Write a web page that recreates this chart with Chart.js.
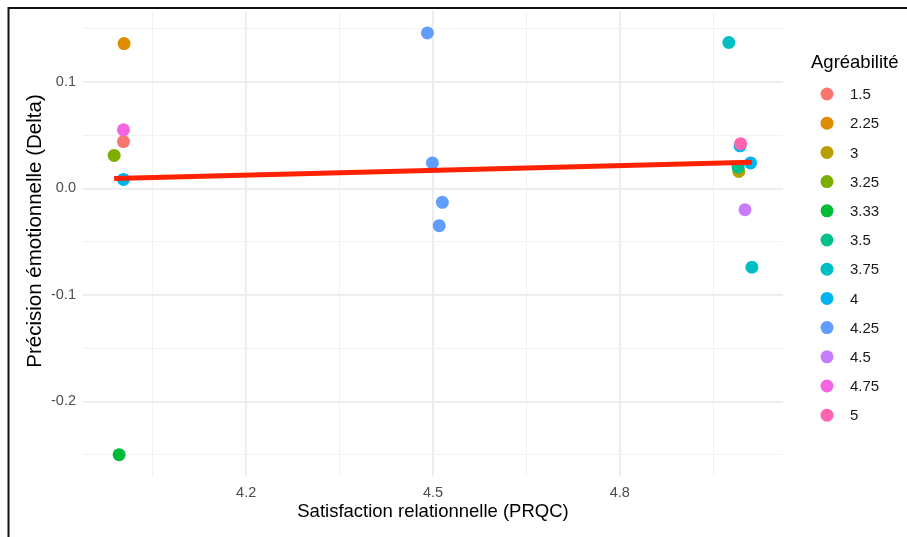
<!DOCTYPE html>
<html>
<head>
<meta charset="utf-8">
<script src="https://cdn.jsdelivr.net/npm/chart.js@4.4.1/dist/chart.umd.min.js"></script>
<style>
  html, body { margin: 0; padding: 0; background: #fff; }
  #wrap { position: relative; width: 907px; height: 537px; }
</style>
</head>
<body>
<div id="wrap"><canvas id="scatter"></canvas></div>
<script>
// --- Data ---
const levels = ['1.5', '2.25', '3', '3.25', '3.33', '3.5', '3.75', '4', '4.25', '4.5', '4.75', '5'];
const levelColors = ['#F8766D', '#DE8C00', '#B79F00', '#7CAE00', '#00BA38', '#00C08B',
                     '#00BFC4', '#00B4F0', '#619CFF', '#C77CFF', '#F564E3', '#FF64B0'];
// satisfaction (PRQC) per level
const prqcByLevel = [
    [4.003],
    [4.004],
    [4.991],
    [3.988],
    [3.996],
    [4.990],
    [4.975, 5.012],
    [4.003, 4.993, 5.010],
    [4.491, 4.499, 4.515, 4.510],
    [5.001],
    [4.003],
    [4.994]
];
// précision émotionnelle (delta) per level
const deltaByLevel = [
    [0.044],
    [0.136],
    [0.016],
    [0.031],
    [-0.250],
    [0.020],
    [0.137, -0.074],
    [0.0085, 0.040, 0.024],
    [0.146, 0.024, -0.013, -0.035],
    [-0.020],
    [0.055],
    [0.042]
];
const fitX = [3.988, 5.012];
const fitY = [0.0094, 0.0245];

const xTicks = [4.05, 4.2, 4.35, 4.5, 4.65, 4.8, 4.95];
const xMajor = [4.2, 4.5, 4.8];
const yTicks = [-0.25, -0.2, -0.15, -0.1, -0.05, 0, 0.05, 0.1, 0.15];
const yMajor = [-0.2, -0.1, 0, 0.1];

// --- Helpers ---
const FONT = '"Liberation Sans", Arial, sans-serif';
const isMajor = (list, v) => list.some(m => Math.abs(m - v) < 1e-6);

const datasets = levels.map((lvl, i) => ({
    label: lvl,
    data: prqcByLevel[i].map((x, j) => ({ x: x, y: deltaByLevel[i][j] })),
    backgroundColor: levelColors[i],
    borderWidth: 0,
    pointRadius: 6.5,
    order: 30 - i
}));
datasets.push({
    type: 'line',
    label: 'fit',
    data: fitX.map((x, j) => ({ x: x, y: fitY[j] })),
    borderColor: '#FF2200',
    borderWidth: 5,
    pointRadius: 0,
    fill: false,
    order: 0
});

// border, axis titles and legend drawn by hand to match the ggplot layout
const decorPlugin = {
    id: 'decor',
    beforeDraw(chart) {
        const c = chart.ctx;
        c.save();
        c.fillStyle = '#fff';
        c.fillRect(0, 0, chart.width, chart.height);
        c.restore();
    },
    afterDraw(chart) {
        const c = chart.ctx;
        const area = chart.chartArea;
        c.save();
        // frame
        c.strokeStyle = '#111';
        c.lineWidth = 2;
        c.beginPath();
        c.moveTo(8.5, chart.height);
        c.lineTo(8.5, 8);
        c.lineTo(chart.width, 8);
        c.stroke();

        // axis titles
        c.fillStyle = '#000';
        c.font = '18.5px ' + FONT;
        c.textAlign = 'center';
        c.textBaseline = 'middle';
        c.fillText('Satisfaction relationnelle (PRQC)', (area.left + area.right) / 2, 512);
        c.save();
        c.translate(35, 231);
        c.rotate(-Math.PI / 2);
        c.font = '20.5px ' + FONT;
        c.fillText('Précision émotionnelle (Delta)', 0, 0);
        c.restore();

        // legend
        c.textAlign = 'left';
        c.fillText('Agréabilité', 811, 63);
        c.font = '15px ' + FONT;
        c.fillStyle = '#1a1a1a';
        levels.forEach((lvl, i) => {
            const y = 94 + i * 29.2;
            c.beginPath();
            c.fillStyle = levelColors[i];
            c.arc(827, y, 6.5, 0, Math.PI * 2);
            c.fill();
            c.fillStyle = '#1a1a1a';
            c.fillText(lvl, 850, y + 1);
        });
        c.restore();
    }
};

new Chart(document.getElementById('scatter'), {
    type: 'scatter',
    data: { datasets: datasets },
    options: {
        responsive: true,
        maintainAspectRatio: false,
        animation: false,
        layout: { padding: { top: 11, right: 124, left: 0, bottom: 0 } },
        plugins: { legend: { display: false }, tooltip: { enabled: false } },
        scales: {
            x: {
                type: 'linear',
                min: 3.938,
                max: 5.062,
                afterBuildTicks: s => { s.ticks = xTicks.map(v => ({ value: v })); },
                afterFit: s => { s.height = 61; },
                border: { display: false },
                grid: {
                    drawTicks: false,
                    color: ctx => isMajor(xMajor, ctx.tick.value) ? '#EBEBEB' : '#F2F2F2',
                    lineWidth: ctx => isMajor(xMajor, ctx.tick.value) ? 1.8 : 1
                },
                ticks: {
                    padding: 8,
                    color: '#4D4D4D',
                    font: { family: FONT, size: 14.5 },
                    maxRotation: 0,
                    autoSkip: false,
                    callback: v => isMajor(xMajor, v) ? v.toFixed(1) : ''
                }
            },
            y: {
                type: 'linear',
                min: -0.27,
                max: 0.1666,
                afterBuildTicks: s => { s.ticks = yTicks.map(v => ({ value: v })); },
                afterFit: s => { s.width = 83; s.paddingTop = 0; s.paddingBottom = 0; },
                border: { display: false },
                grid: {
                    drawTicks: false,
                    color: ctx => isMajor(yMajor, ctx.tick.value) ? '#EBEBEB' : '#F2F2F2',
                    lineWidth: ctx => isMajor(yMajor, ctx.tick.value) ? 1.8 : 1
                },
                ticks: {
                    padding: 7,
                    color: '#4D4D4D',
                    font: { family: FONT, size: 14.5 },
                    autoSkip: false,
                    callback: v => isMajor(yMajor, v) ? v.toFixed(1) : ''
                }
            }
        }
    },
    plugins: [decorPlugin]
});
</script>
</body>
</html>
